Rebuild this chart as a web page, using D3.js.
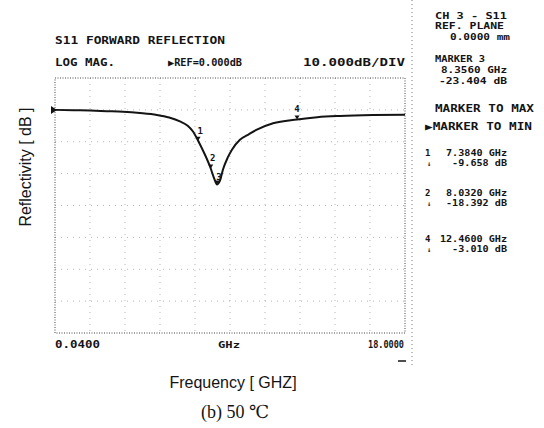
<!DOCTYPE html>
<html>
<head>
<meta charset="utf-8">
<script src="https://cdn.jsdelivr.net/npm/d3@7"></script>
<style>
  html, body { margin: 0; padding: 0; background: #fff; }
  svg { display: block; }
</style>
</head>
<body>
<svg id="chart" width="544" height="428"></svg>
<script>
// S11 trace
const freqGHz = [0.04, 1.0, 1.84, 2.7, 3.53, 4.4, 5.27, 5.9, 6.45, 6.85, 7.12, 7.384, 7.7, 8.032, 8.2, 8.356, 8.5, 8.66, 8.9, 9.12, 9.53, 10.0, 10.4, 11.23, 12.46, 13.5, 14.66, 16.36, 18.0];
const s11dB = [0, -0.1, -0.2, -0.4, -0.6, -1.0, -1.6, -2.4, -3.6, -5.0, -6.8, -9.658, -13.6, -18.392, -21.4, -23.404, -22.3, -18.7, -15.0, -12.5, -9.4, -7.6, -6.2, -4.2, -3.01, -2.3, -1.9, -1.6, -1.5];

// markers
const markerIds = [1, 2, 3, 4];
const markerFreq = [7.384, 8.032, 8.356, 12.46];
const markerDb = [-9.658, -18.392, -23.404, -3.010];

// axis setup
const freqStart = 0.04;
const freqStop = 18.0;
const refDb = 0;
const dbPerDiv = 10;
const xDivs = 10;
const yDivs = 8;
const xTickLabels = ["0.0400", "GHz", "18.0000"];

const svg = d3.select("#chart");
const ink = "#141414";
const mono = "'DejaVu Sans Mono', monospace";

const plotLeft = 55, plotRight = 405, plotTop = 78, plotBottom = 333;

const x = d3.scaleLinear().domain([freqStart, freqStop]).range([plotLeft, plotRight]);
// reference line sits one division below the top
const y = d3.scaleLinear()
  .domain([refDb + dbPerDiv, refDb + dbPerDiv - yDivs * dbPerDiv])
  .range([plotTop, plotBottom]);

// grid
const grid = svg.append("g").attr("class", "grid");
d3.range(1, xDivs).forEach((i) => {
  const f = freqStart + (i * (freqStop - freqStart)) / xDivs;
  grid.append("line")
    .attr("x1", x(f)).attr("x2", x(f))
    .attr("y1", plotTop).attr("y2", plotBottom)
    .attr("stroke", "#b5b5b5")
    .attr("stroke-width", 1)
    .attr("stroke-dasharray", "1,5");
});
d3.range(1, yDivs).forEach((i) => {
  const v = refDb + dbPerDiv - i * dbPerDiv;
  grid.append("line")
    .attr("x1", plotLeft).attr("x2", plotRight)
    .attr("y1", y(v)).attr("y2", y(v))
    .attr("stroke", "#b5b5b5")
    .attr("stroke-width", 1)
    .attr("stroke-dasharray", "1,5");
});

// dotted frame
svg.append("rect")
  .attr("x", plotLeft).attr("y", plotTop)
  .attr("width", plotRight - plotLeft).attr("height", plotBottom - plotTop)
  .attr("fill", "none")
  .attr("stroke", "#444")
  .attr("stroke-width", 1)
  .attr("stroke-dasharray", "1,1.5");

// separator between screen and annotation column
svg.append("line")
  .attr("x1", 412).attr("x2", 412)
  .attr("y1", 0).attr("y2", 365)
  .attr("stroke", "#777")
  .attr("stroke-width", 1)
  .attr("stroke-dasharray", "1,3");

// reference marker on left edge
svg.append("path")
  .attr("d", `M${x(freqStart) - 4},${y(refDb) - 4}L${x(freqStart) + 2},${y(refDb)}L${x(freqStart) - 4},${y(refDb) + 4}Z`)
  .attr("fill", ink);

// trace
const line = d3.line()
  .x((d, i) => x(freqGHz[i]))
  .y((d, i) => y(s11dB[i]))
  .curve(d3.curveMonotoneX);

svg.append("path")
  .datum(s11dB)
  .attr("d", line)
  .attr("fill", "none")
  .attr("stroke", ink)
  .attr("stroke-width", 2)
  .attr("stroke-linejoin", "round");

// marker symbols and numbers
markerIds.forEach((id, i) => {
  const mx = x(markerFreq[i]);
  const my = y(markerDb[i]);
  svg.append("path")
    .attr("d", `M${mx - 2.5},${my - 4}L${mx + 2.5},${my - 4}L${mx},${my}Z`)
    .attr("fill", ink);
  svg.append("text")
    .attr("x", mx + (id === 4 ? 0 : 2))
    .attr("y", my - (id === 3 ? 4 : 7))
    .attr("text-anchor", "middle")
    .attr("font-family", mono)
    .attr("font-weight", "bold")
    .attr("font-size", "9px")
    .attr("fill", ink)
    .text(id);
});

// instrument text helper
function label(tx, ty, str, len, anchor = "start", size = 10) {
  const t = svg.append("text")
    .attr("x", tx)
    .attr("y", ty)
    .attr("text-anchor", anchor)
    .attr("font-family", mono)
    .attr("font-weight", "bold")
    .attr("font-size", size + "px")
    .attr("fill", ink)
    .text(str);
  if (len) t.attr("textLength", len).attr("lengthAdjust", "spacingAndGlyphs");
  return t;
}

label(55, 44, "S11 FORWARD REFLECTION", 170);
label(55, 66, "LOG MAG.", 60);
label(168, 66, "\u25B6REF=0.000dB", 74);
label(405, 66, "10.000dB/DIV", 102, "end");

// right column
label(435, 19, "CH 3 - S11", 72, "start", 9.5);
label(435, 29, "REF. PLANE", 69, "start", 9.5);
label(510, 40, "0.0000 mm", 60, "end", 9.5);
label(435, 62, "MARKER 3", 50, "start", 9.5);
label(507, 73, "8.3560 GHz", 66, "end", 9.5);
label(507, 84, "-23.404 dB", 68, "end", 9.5);
label(435, 112, "MARKER TO MAX", 99);
label(425, 130, "\u25B6MARKER TO MIN", 107);

const markerRows = [[1, 156], [2, 196], [4, 242]];
markerRows.forEach(([id, ry]) => {
  const i = markerIds.indexOf(id);
  label(425, ry, String(id), null, "start", 9);
  const fStr = markerFreq[i].toFixed(4) + " GHz";
  label(507, ry, fStr, fStr.length * 6.1, "end", 8.5);
  label(427, ry + 10, "\u2193", null, "start", 7);
  const dStr = markerDb[i].toFixed(3) + " dB";
  label(507, ry + 10, dStr, dStr.length * 6.1, "end", 8.5);
});

// frequency labels under the screen
label(55, 348, xTickLabels[0], 45);
label(229, 348, xTickLabels[1], 22, "middle", 9);
label(404, 348, xTickLabels[2], 36, "end");
svg.append("line")
  .attr("x1", 398).attr("x2", 406)
  .attr("y1", 361).attr("y2", 361)
  .attr("stroke", ink)
  .attr("stroke-width", 1.5);

// axis titles
svg.append("text")
  .attr("x", 233)
  .attr("y", 388)
  .attr("text-anchor", "middle")
  .attr("font-family", "'Liberation Sans', Arial, sans-serif")
  .attr("font-size", "16px")
  .attr("fill", ink)
  .text("Frequency [ GHZ]");

svg.append("text")
  .attr("transform", "translate(31,167) rotate(-90)")
  .attr("text-anchor", "middle")
  .attr("font-family", "'Liberation Sans', Arial, sans-serif")
  .attr("font-size", "16px")
  .attr("fill", ink)
  .text("Reflectivity [ dB ]");

svg.append("text")
  .attr("x", 235)
  .attr("y", 418)
  .attr("text-anchor", "middle")
  .attr("font-family", "'Liberation Serif', 'DejaVu Serif', serif")
  .attr("font-size", "18px")
  .attr("fill", ink)
  .text("(b) 50 \u2103");
</script>
</body>
</html>
